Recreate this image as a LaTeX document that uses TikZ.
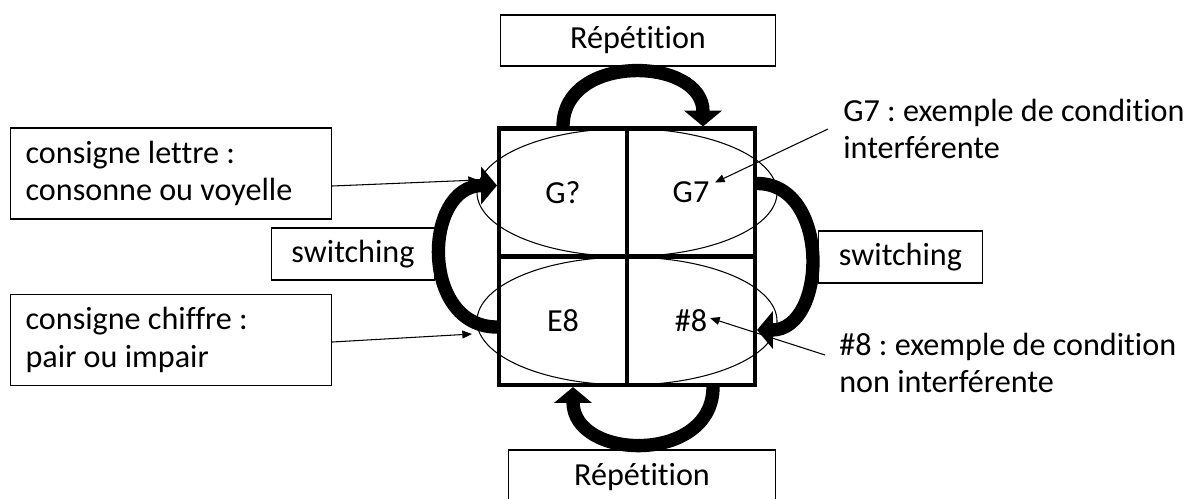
\documentclass[tikz,border=0pt]{standalone}
\usepackage{fontspec}
\setmainfont{Carlito}[Ligatures=NoCommon]
\usetikzlibrary{arrows.meta,calc}
\begin{document}
\frenchspacing
\begin{tikzpicture}[x=0.02cm,y=-0.02cm,
  txt/.style={font=\frenchspacing\fontsize{18.3}{21.5}\selectfont},
  box/.style={draw, line width=0.9pt, inner sep=0pt, txt},
  lbl/.style={inner sep=0pt, align=flush left, txt},
  cell/.style={draw, line width=2.3pt, minimum width=72.85pt, minimum height=72.85pt, inner sep=0pt, txt},
  thinarrow/.style={line width=0.6pt, -{Triangle[length=5.5pt,width=4.5pt]}},
  bigarrow/.style={line width=7.6pt, -{Triangle[length=9pt,width=21pt]}},
  oval/.style={line width=0.6pt},
]
\clip (0,0) rectangle (1197,498);
% ellipses
\draw[oval] (627,192.5) ellipse [x radius=150, y radius=64];
\draw[oval] (627,321) ellipse [x radius=150, y radius=64];
% cells
\node[cell] (c1) at (563,192.5) {G?};
\node[cell] (c2) at (691,192.5) {G7};
\node[cell] (c3) at (563,321) {E8};
\node[cell] (c4) at (691,321) {\#8};
% boxes
\node[box, minimum width=156.5pt, minimum height=28.9pt] (reptop) at (638,40.5) {Répétition};
\node[box, minimum width=152pt, minimum height=34pt] (repbot) at (642,480) {};
\node[lbl] (repbottxt) at (642,477) {Répétition};
\node[box, minimum width=93pt, minimum height=29.5pt] (swl) at (353,254) {switching};
\node[box, minimum width=93.5pt, minimum height=29.5pt] (swr) at (900.5,257) {switching};
\node[box, text width=165.5pt, inner xsep=8.5pt, minimum height=51.6pt, align=flush left] (lettre) at (171,173.5) {consigne lettre :\\consonne ou voyelle};
\node[box, text width=165.5pt, inner xsep=8.5pt, minimum height=51.6pt, align=flush left] (chiffre) at (171,340) {consigne chiffre :\\pair ou impair};
\node[lbl, anchor=west] (g7lbl) at (843,129) {G7 : exemple de condition\\interférente};
\node[lbl, anchor=west] (h8lbl) at (839,363) {\#8 : exemple de condition\\non interférente};
% thick curved arrows
\draw[bigarrow] (c1.north) .. controls +(0,-74) and +(0,-70) .. ($(c2.north)+(12,0)$);
\draw[bigarrow] ($(c4.south)+(22,0)$) .. controls +(0,77) and +(0,74) .. ($(c3.south)+(10,0)$);
\draw[bigarrow] ($(c3.west)+(0,6)$) .. controls +(-77,0) and +(-74,0) .. ($(c1.west)+(0,-7)$);
\draw[bigarrow] ($(c2.east)+(0,-9)$) .. controls +(74,0) and +(70,0) .. ($(c4.east)+(0,9)$);
% thin arrows
\coordinate (lt) at (478,180);
\coordinate (ct) at (472,334);
\draw[thinarrow] ($(lettre.east)+(0,12.5)$) -- (lt);
\draw[thinarrow] ($(chiffre.east)+(0,2)$) -- (ct);
\draw[thinarrow] ($(g7lbl.west)+(-15,0)$) -- ($(c2)+(24,-10)$);
\draw[thinarrow] ($(h8lbl.west)+(-14,-8)$) -- ($(c4)+(19,-3)$);
\end{tikzpicture}
\end{document}
